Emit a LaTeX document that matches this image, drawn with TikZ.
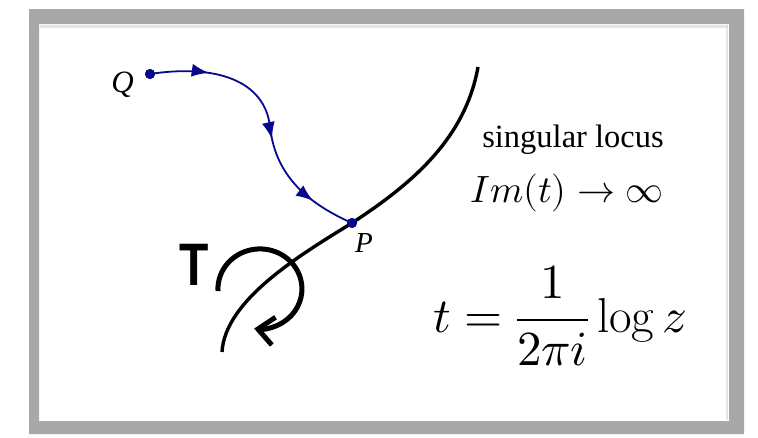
\documentclass[tikz,border=0pt]{standalone}
\usepackage{graphicx}
\usepackage{fontspec}
\usepackage{unicode-math}
\setmainfont{Liberation Serif}
\setmathfont{Latin Modern Math}
\setmathrm{Latin Modern Roman}
\setoperatorfont\mathrm
\newfontfamily\tsans{Liberation Sans}
\usetikzlibrary{arrows.meta,decorations.markings}
\definecolor{framegray}{RGB}{166,169,168}
\definecolor{pathblue}{RGB}{8,8,140}
\begin{document}
\begin{tikzpicture}[x=1pt,y=-1pt,
  lbl/.style={inner sep=0pt, anchor=base},
  dotn/.style={circle, fill=pathblue, inner sep=0pt, minimum size=10pt},
  locus/.style={line width=3.4pt, black},
  flow/.style={line width=1.8pt, pathblue, postaction=decorate,
    decoration={markings,
      mark=at position 0.21 with {\arrow{Latex[length=17pt,width=13pt]}},
      mark=at position 0.57 with {\arrow{Latex[length=17pt,width=13pt]}},
      mark=at position 0.84 with {\arrow{Latex[length=17pt,width=13pt]}}}},
  turn/.style={line width=5pt, black, -{Straight Barb[length=16pt,width=28pt]}}
]
\useasboundingbox (0,0) rectangle (758,437);
\fill[white] (0,0) rectangle (758,437);
% frame
\fill[framegray, even odd rule] (29,9) rectangle (744,434) (39,24) rectangle (729,421);
\draw[framegray!50, line width=3pt, opacity=0.6] (40,26.5) -- (728,26.5);
\draw[framegray!50, line width=2pt, opacity=0.6] (727,25) -- (727,420);

% singular locus
\coordinate (top) at (478,67);
\coordinate (bot) at (222,352);
\node[dotn] (P) at (352,223) {};
\node[dotn] (Q) at (150,74) {};
\draw[locus] (top) .. controls (465,140) and (410,185) .. (P.center)
  .. controls (300,255) and (225,300) .. (bot);

% path Q -> P
\draw[flow] (Q.center) .. controls (215,64) and (265,80) .. (270,127)
  .. controls (275,170) and (300,200) .. (P.center);
\node[dotn] at (P) {};
\node[dotn] at (Q) {};

% labels
\node[lbl, font=\fontsize{31}{36}\selectfont\itshape] (Ql) at (122.5,92) {Q};
\node[lbl, font=\fontsize{29}{34}\selectfont\itshape] (Pl) at (364,252) {P};
\node[lbl, font=\fontsize{32.5}{38}\selectfont] (sing) at (573,147) {singular locus};
\node[lbl, font=\fontsize{38}{44}\selectfont] (imt) at (567,202) {$Im(t)\to\infty$};
\node[lbl, font=\fontsize{49}{58}\selectfont] (form) at (560,332) {$\displaystyle t=\frac{1}{2\pi i}\log z$};

% monodromy
\node[lbl, font=\fontsize{60}{70}\selectfont\tsans\bfseries] (T) at (194.5,285) {\scalebox{0.8}[1]{T}};
\draw[turn] (218,291) arc[start angle=177, end angle=458, x radius=42, y radius=40];
\end{tikzpicture}
\end{document}
